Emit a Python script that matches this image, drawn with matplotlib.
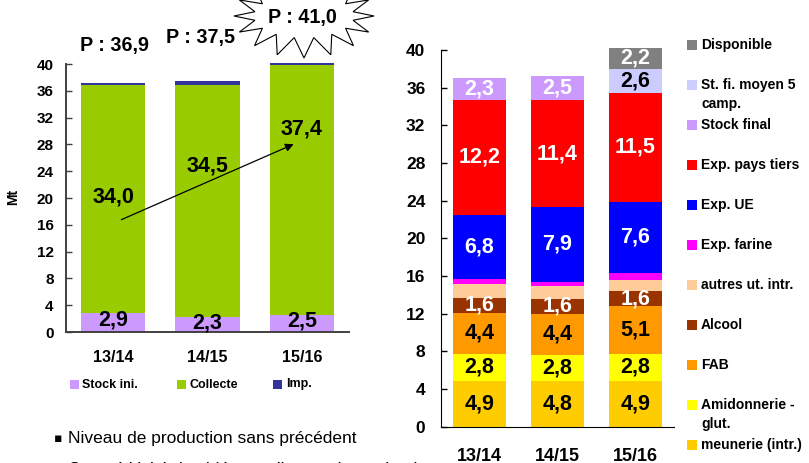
import numpy as np
import matplotlib
matplotlib.use("Agg")
import matplotlib.pyplot as plt
from matplotlib.patches import Rectangle, Polygon

plt.rcParams['font.family'] = ['Liberation Sans', 'DejaVu Sans']
W, H = 809, 463

campagnes = ["13/14", "14/15", "15/16"]

# --- left chart: ressources (Mt)
production = [36.9, 37.5, 41.0]
stock_ini = [2.9, 2.3, 2.5]
collecte = [34.0, 34.5, 37.4]
imports = [0.3, 0.6, 0.3]
res_labels = ["Stock ini.", "Collecte", "Imp."]
res_colors = ["#CC99FF", "#99CC00", "#333399"]

# --- right chart: emplois (Mt), bottom -> top
meunerie = [4.9, 4.8, 4.9]
amidon = [2.8, 2.8, 2.8]
fab = [4.4, 4.4, 5.1]
alcool = [1.6, 1.6, 1.6]
autres = [1.4, 1.3, 1.2]
farine = [0.6, 0.5, 0.7]
exp_ue = [6.8, 7.9, 7.6]
exp_pt = [12.2, 11.4, 11.5]
stock_final = [2.3, 2.5, 0.0]
stock_moy = [0.0, 0.0, 2.6]
disponible = [0.0, 0.0, 2.2]
emp_labels = ["meunerie (intr.)", "Amidonnerie -\nglut.", "FAB", "Alcool", "autres ut. intr.",
              "Exp. farine", "Exp. UE", "Exp. pays tiers", "Stock final",
              "St. fi. moyen 5\ncamp.", "Disponible"]
emp_colors = ["#FFCC00", "#FFFF00", "#FF9900", "#993300", "#FFCC99", "#FF00FF",
              "#0000FF", "#FF0000", "#CC99FF", "#CCCCFF", "#808080"]
emp_series = [meunerie, amidon, fab, alcool, autres, farine, exp_ue, exp_pt,
              stock_final, stock_moy, disponible]
# label colour per series (None = no label)
emp_txt = ["black", "black", "black", "white", None, None, "white", "white",
           "white", "black", "white"]

def fx(px): return px / W
def fy(py): return 1 - py / H

fig = plt.figure(figsize=(W / 100, H / 100), dpi=100)
x = np.arange(len(campagnes))
bw = 0.68

# ---------------- left chart
ax1 = fig.add_axes([fx(66), (H - 332) / H, 283 / W, 270 / H])
bottom = np.zeros(3)
for vals, col in zip([stock_ini, collecte, imports], res_colors):
    ax1.bar(x, vals, bw, bottom=bottom, color=col, lw=0, zorder=2)
    bottom += np.array(vals)
ax1.set_xlim(-0.5, 2.5); ax1.set_ylim(0, 40.3)
ax1.set_yticks(np.arange(0, 41, 4))
ax1.set_xticks(x); ax1.set_xticklabels(campagnes, fontsize=11.5, fontweight="bold")
ax1.tick_params(axis="x", length=0, pad=13)
ax1.tick_params(axis="y", direction="in", length=4, width=1, color="#404040", pad=9, labelsize=11)
for t in ax1.get_yticklabels(): t.set_fontweight("bold")
for s in ["top", "right"]: ax1.spines[s].set_visible(False)
for s in ["left", "bottom"]:
    ax1.spines[s].set_color("#404040"); ax1.spines[s].set_linewidth(1.4)
ax1.spines["left"].set_bounds(0, 40)
ax1.set_ylabel("Mt", fontsize=10, fontweight="bold", labelpad=12)

coll_y = [20.1, 24.8, 30.3]
stock_y = [1.8, 1.3, 1.6]
for i in range(3):
    ax1.text(x[i], coll_y[i], f"{collecte[i]:.1f}".replace(".", ","), ha="center", va="center",
             fontsize=15.5, fontweight="bold", zorder=4)
    ax1.text(x[i], stock_y[i], f"{stock_ini[i]:.1f}".replace(".", ","), ha="center", va="center",
             fontsize=15.5, fontweight="bold", zorder=4)
ax1.annotate("", xy=(1.94, 28.2), xytext=(0.06, 16.6),
             arrowprops=dict(arrowstyle="-|>", color="black", lw=0.9, mutation_scale=12), zorder=5)

# production labels
p_pos = [(115, 46), (200, 38), (302, 17)]
for (px, py), p in zip(p_pos, production):
    fig.text(fx(px), fy(py), "P : " + f"{p:.1f}".replace(".", ","), ha="center", va="center",
             fontsize=14.2, fontweight="bold", zorder=6)

# starburst around last production value
n = 16
ang = np.linspace(0, 2 * np.pi, 2 * n, endpoint=False) + np.pi / 2
cx, cy = 304, 16
rx = np.where(np.arange(2 * n) % 2 == 0, 70, 50)
ry = np.where(np.arange(2 * n) % 2 == 0, 42, 22)
pts = [(fx(cx + a * np.cos(t)), fy(cy + b * np.sin(t))) for t, a, b in zip(ang, rx, ry)]
fig.patches.append(Polygon(pts, closed=True, transform=fig.transFigure, facecolor="white",
                           edgecolor="black", lw=0.8, zorder=5))

# left legend
leg1 = [(70, 82), (177, 189), (273, 286)]
for (sx, tx), lab, col in zip(leg1, res_labels, res_colors):
    fig.patches.append(Rectangle((fx(sx), fy(389)), 9 / W, 9 / H, transform=fig.transFigure,
                                 facecolor=col, edgecolor="none"))
    fig.text(fx(tx), fy(384.5), lab, ha="left", va="center", fontsize=9, fontweight="bold")

# bullet text
fig.text(fx(54), fy(438), "\u25aa", ha="left", va="center", fontsize=9,
         family=["DejaVu Sans"])
fig.text(fx(68), fy(438), "Niveau de production sans précédent", ha="left", va="center",
         fontsize=12.5)
fig.text(fx(68), fy(462), "Compétitivité des blés en alimentation animale", ha="left", va="top",
         fontsize=12.5)

# ---------------- right chart
ax2 = fig.add_axes([fx(440.7), 36.3 / H, 233.3 / W, 40.4 * 9.42 / H])
bottom = np.zeros(3)
for vals, col, tc in zip(emp_series, emp_colors, emp_txt):
    v = np.array(vals)
    ax2.bar(x, v, bw, bottom=bottom, color=col, lw=0, zorder=2)
    if tc is not None:
        for i in range(3):
            if v[i] > 0:
                ax2.text(x[i], bottom[i] + v[i] / 2, f"{v[i]:.1f}".replace(".", ","),
                         ha="center", va="center", color=tc, fontsize=15.5,
                         fontweight="bold", zorder=4)
    bottom += v
ax2.set_xlim(-0.5, 2.5); ax2.set_ylim(0, 40.4)
ax2.set_yticks(np.arange(0, 41, 4))
ax2.set_xticks(x); ax2.set_xticklabels(campagnes, fontsize=13, fontweight="bold")
ax2.tick_params(axis="x", length=0, pad=15)
ax2.tick_params(axis="y", direction="in", length=4, width=1, pad=11, labelsize=12.5)
for t in ax2.get_yticklabels(): t.set_fontweight("bold")
for s in ["top", "right"]: ax2.spines[s].set_visible(False)
ax2.spines["left"].set_bounds(0, 40)

# right legend (top -> bottom)
leg_y = np.linspace(45, 445, len(emp_labels))
for yy, lab, col in zip(leg_y, emp_labels[::-1], emp_colors[::-1]):
    fig.patches.append(Rectangle((fx(687), fy(yy + 5)), 10 / W, 10 / H, transform=fig.transFigure,
                                 facecolor=col, edgecolor="none"))
    for k, line in enumerate(lab.split("\n")):
        fig.text(fx(701), fy(yy + 19 * k), line, ha="left", va="center", fontsize=10,
                 fontweight="bold")

fig.savefig("out.png", dpi=100)
